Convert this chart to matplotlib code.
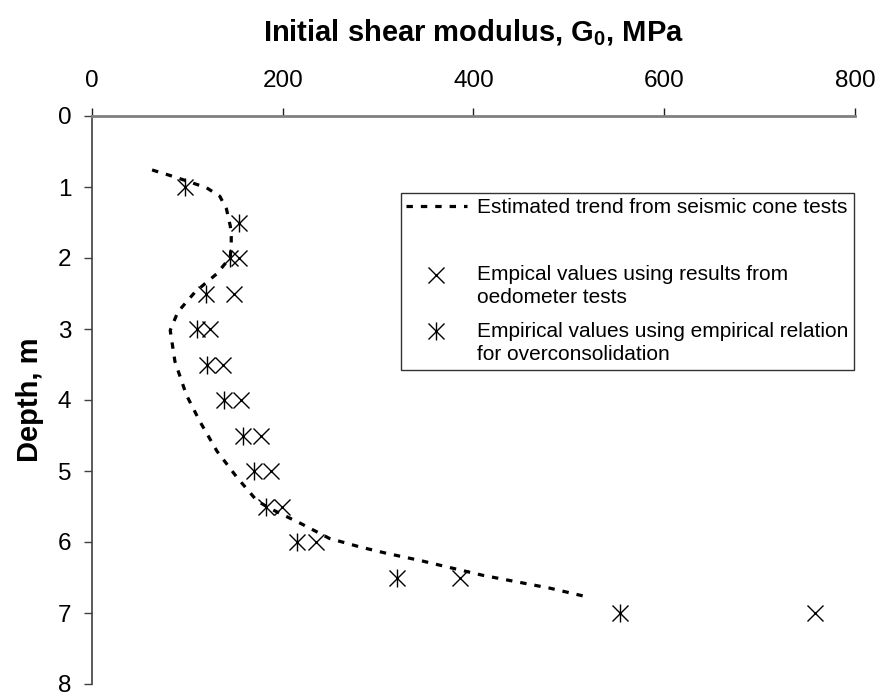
import matplotlib
matplotlib.use("Agg")
import matplotlib.pyplot as plt
from matplotlib.lines import Line2D
from matplotlib.legend_handler import HandlerTuple

plt.rcParams['font.family'] = ['Liberation Sans', 'DejaVu Sans']
plt.rcParams['mathtext.fontset'] = 'custom'
plt.rcParams['mathtext.rm'] = 'Liberation Sans'
plt.rcParams['mathtext.bf'] = 'Liberation Sans:bold'

# trend from seismic cone tests (G0 in MPa, depth in m)
trend_g = [63, 80, 96, 120, 134, 141, 145, 146, 146, 145, 131, 108, 90, 82, 87, 99,
           113, 131, 152, 173, 187, 219, 249, 281, 309, 344, 372, 410, 445, 480, 515]
trend_depth = [0.76, 0.83, 0.90, 1.01, 1.13, 1.31, 1.55, 1.70, 1.80, 1.99, 2.22, 2.48,
               2.76, 3.02, 3.46, 3.93, 4.30, 4.72, 5.09, 5.42, 5.53, 5.74, 5.95, 6.07,
               6.16, 6.26, 6.35, 6.47, 6.56, 6.65, 6.76]

# oedometer based values
oed_depth = [2, 2.5, 3, 3.5, 4, 4.5, 5, 5.5, 6, 6.5, 7]
oed_g = [154, 149, 124, 137, 156, 177, 188, 199, 235, 386, 758]

# empirical relation for overconsolidation
oc_depth = [1, 1.5, 2, 2.5, 3, 3.5, 4, 4.5, 5, 5.5, 6, 6.5, 7]
oc_g = [97, 154, 145, 120, 110, 121, 138, 158, 170, 182, 215, 320, 554]

W, H = 879, 697
fig = plt.figure(figsize=(W / 100, H / 100), dpi=100)
ax = fig.add_axes([92 / W, 1 - 684 / H, (855 - 92) / W, (684 - 116) / H])

line, = ax.plot(trend_g, trend_depth, color='black', lw=2.3, linestyle=(0, (2, 2.5)))
xo, = ax.plot(oed_g, oed_depth, linestyle='none', marker='x', ms=11.5, mew=1.0, color='black')
xa, = ax.plot(oc_g, oc_depth, linestyle='none', marker='x', ms=11.5, mew=1.0, color='black')
va, = ax.plot(oc_g, oc_depth, linestyle='none', marker='|', ms=12.5, mew=1.0, color='black')

ax.set_xlim(0, 800)
ax.set_ylim(8, 0)
ax.set_xticks([0, 200, 400, 600, 800])
ax.set_yticks(range(9))
ax.xaxis.tick_top()
ax.xaxis.set_label_position('top')
for s in ['right', 'bottom']:
    ax.spines[s].set_visible(False)
ax.spines['top'].set_color('#808080')
ax.spines['top'].set_linewidth(2)
ax.spines['left'].set_color('#404040')
ax.spines['left'].set_linewidth(1.2)
ax.tick_params(axis='x', direction='out', length=6, width=1, color='#202020',
               labelsize=17.5, pad=11)
ax.tick_params(axis='y', direction='out', length=6, width=1, color='#404040',
               labelsize=17.5, pad=9)

ax.set_xlabel(r'Initial shear modulus, G$_\mathbf{0}$, MPa', fontsize=21,
              fontweight='bold', labelpad=21)
ax.set_ylabel('Depth, m', fontsize=21, fontweight='bold', labelpad=10)

blank = Line2D([], [], linestyle='none')
leg = ax.legend([line, blank, xo, (xa, va)],
                ['Estimated trend from seismic cone tests', '',
                 'Empical values using results from\noedometer tests',
                 'Empirical values using empirical relation\nfor overconsolidation'],
                handler_map={tuple: HandlerTuple(ndivide=1)},
                loc='upper left', bbox_to_anchor=(401 / W, 1 - 193 / H),
                bbox_transform=fig.transFigure, borderaxespad=0,
                fontsize=15, handlelength=2.9, handletextpad=0.5,
                labelspacing=0.69, borderpad=0.25, frameon=True, fancybox=False)
leg.get_frame().set_edgecolor('black')
leg.get_frame().set_linewidth(1)
for t in leg.get_texts():
    t.set_linespacing(1.3)

# markers of the two-line entries sit level with the first text line
for obj in leg.findobj(Line2D):
    if obj.get_marker() in ('x', '|'):
        obj.set_ydata([y + 8.5 for y in obj.get_ydata()])

fig.savefig('out.png', dpi=100)
